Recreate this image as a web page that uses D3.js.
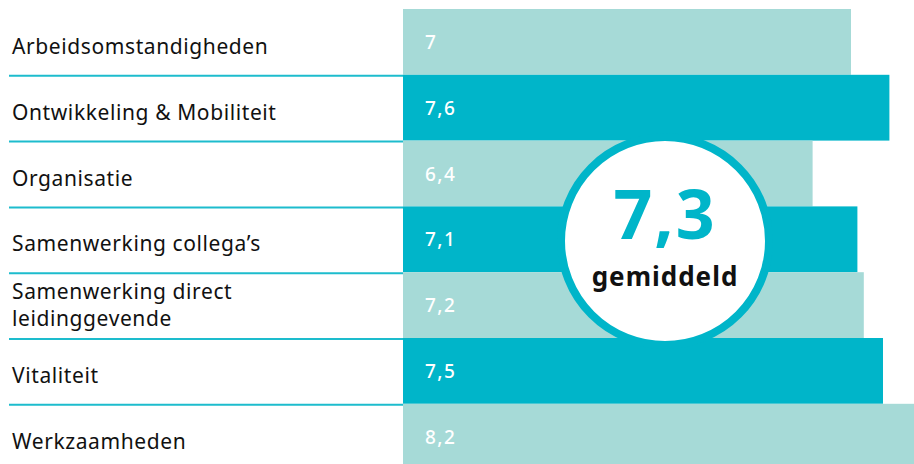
<!DOCTYPE html>
<html>
<head>
<meta charset="utf-8">
<script src="https://cdn.jsdelivr.net/npm/d3@7"></script>
<style>
  body { margin: 0; background: #fff; }
  svg { display: block; }
  text { font-family: "Noto Sans", sans-serif; }
</style>
</head>
<body>
<div id="chart"></div>
<script>
// categories and scores
var categories = ["Arbeidsomstandigheden", "Ontwikkeling & Mobiliteit", "Organisatie",
  "Samenwerking collega’s", "Samenwerking direct leidinggevende", "Vitaliteit", "Werkzaamheden"];
var scores = [7, 7.6, 6.4, 7.1, 7.2, 7.5, 8.2];
var average = 7.3;
var averageLabel = "gemiddeld";

var width = 914,
    height = 464;

var lightColor = "#a6dad7",
    darkColor = "#00b5c9",
    lineColor = "#1dbccd";

var nl = d3.formatLocale({decimal: ",", thousands: ".", grouping: [3], currency: ["€", ""]});
var fmt = nl.format("~g");

var rows = categories.map(function(c, i) { return {label: c, value: scores[i], i: i}; });

var svg = d3.select("#chart").append("svg")
  .attr("width", width)
  .attr("height", height);

var x = d3.scaleLinear().domain([0, 10]).range([403, 1043]);
var y = d3.scaleBand().domain(categories).range([9, 9 + 65.8 * categories.length]);

// bars
svg.append("g").selectAll("rect")
  .data(rows)
  .enter().append("rect")
  .attr("x", x(0))
  .attr("y", function(d) { return y(d.label); })
  .attr("width", function(d) { return x(d.value) - x(0); })
  .attr("height", y.bandwidth())
  .attr("fill", function(d) { return d.i % 2 ? darkColor : lightColor; });

// separator lines under labels
svg.append("g").selectAll("line")
  .data(rows.slice(0, rows.length - 1))
  .enter().append("line")
  .attr("x1", 9)
  .attr("x2", x(0))
  .attr("y1", function(d) { return y(d.label) + y.bandwidth() + 1; })
  .attr("y2", function(d) { return y(d.label) + y.bandwidth() + 1; })
  .attr("stroke", lineColor)
  .attr("stroke-width", 2);

// category labels, wrapped when too long
var labels = svg.append("g").selectAll("text")
  .data(rows)
  .enter().append("text")
  .attr("x", 12)
  .attr("font-size", 21)
  .attr("letter-spacing", 0.6)
  .attr("fill", "#111");

labels.each(function(d) {
  var t = d3.select(this);
  var cy = y(d.label) + y.bandwidth() / 2;
  t.text(d.label);
  if (this.getComputedTextLength() > 320) {
    var words = d.label.split(" ");
    t.text(null);
    t.append("tspan").attr("x", 12).attr("y", cy - 6).text(words.slice(0, 2).join(" "));
    t.append("tspan").attr("x", 12).attr("y", cy + 21).text(words.slice(2).join(" "));
  } else {
    t.attr("y", cy + 12);
  }
});

// value labels
svg.append("g").selectAll("text")
  .data(rows)
  .enter().append("text")
  .attr("x", x(0) + 22)
  .attr("y", function(d) { return y(d.label) + y.bandwidth() / 2 + 7; })
  .attr("font-size", 19)
  .attr("letter-spacing", 1.5)
  .attr("font-weight", 500)
  .attr("fill", "#fff")
  .text(function(d) { return fmt(d.value); });

// average badge
var badge = svg.append("g").attr("transform", "translate(665,241)");
badge.append("circle")
  .attr("r", 104)
  .attr("fill", "#fff")
  .attr("stroke", darkColor)
  .attr("stroke-width", 8);
badge.append("text")
  .attr("text-anchor", "middle")
  .attr("y", -2)
  .attr("font-family", "Lato, sans-serif")
  .attr("font-size", 68)
  .attr("font-weight", 700)
  .attr("letter-spacing", 2)
  .attr("fill", darkColor)
  .text(fmt(average));
badge.append("text")
  .attr("text-anchor", "middle")
  .attr("y", 45)
  .attr("font-family", "Lato, sans-serif")
  .attr("font-size", 26)
  .attr("font-weight", 700)
  .attr("letter-spacing", 1)
  .attr("fill", "#111")
  .text(averageLabel);
</script>
</body>
</html>
